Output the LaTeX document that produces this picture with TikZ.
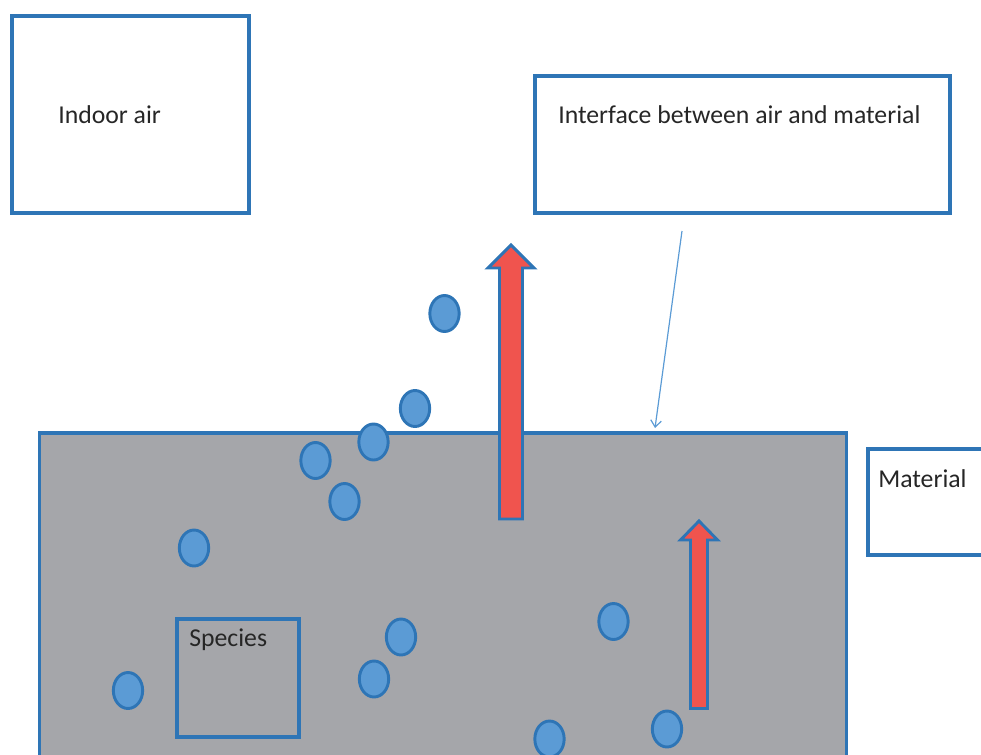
\documentclass[tikz,border=0pt]{standalone}
\usepackage{fontspec}
\setmainfont{Carlito}
\usepackage{xcolor}
\usepackage{tikz}
\usetikzlibrary{shapes.geometric,fit,arrows.meta}

\definecolor{edgeblue}{RGB}{46,117,182}
\definecolor{dotblue}{RGB}{91,155,213}
\definecolor{slabgrey}{RGB}{165,166,170}
\definecolor{fluxred}{RGB}{240,84,78}

\tikzset{
  box/.style={draw=edgeblue, line width=2.4pt, inner sep=0pt},
  caption/.style={anchor=base west, inner sep=0pt, text=black!85, font=\fontsize{19.3}{23}\selectfont},
  species dot/.style={ellipse, draw=edgeblue, fill=dotblue, line width=2.2pt, inner sep=0pt, minimum width=22pt, minimum height=27pt},
  flux/.style={draw=edgeblue, fill=fluxred, line width=2.2pt},
  pointer/.style={draw=dotblue, line width=0.9pt, -{Straight Barb[length=5pt, width=8pt]}}
}

\begin{document}
\begin{tikzpicture}[x=0.75pt, y=-0.75pt]
  \clip (0,0) rectangle (981,754);

  \node[box, fit={(12,16) (249,213)}] (indoor) {};
  \node[box, fit={(535,76) (950,213)}] (interface) {};
  \node[box, fill=slabgrey, fit={(39.5,433) (846.5,790)}] (slab) {};
  \node[box, fit={(868,449) (1000,555)}] (material) {};
  \node[box, fit={(177,619) (299,737)}] (species) {};

  \node[caption] (indoor-text) at (58,123) {Indoor air};
  \node[caption] (interface-text) at (558,123) {Interface between air and material};
  \node[caption] (material-text) at (878,487) {Material};
  \node[caption] (species-text) at (189,646) {Species};

  \foreach \cx/\tip/\base/\bot/\sw/\hw in {
      511/245/268/519/11.5/23,
      699/521/540/708.5/8.5/18.5
    } {
      \filldraw[flux] (\cx-\sw,\bot) -- (\cx-\sw,\base) -- (\cx-\hw,\base) -- (\cx,\tip)
        -- (\cx+\hw,\base) -- (\cx+\sw,\base) -- (\cx+\sw,\bot) -- cycle;
    }

  \foreach \x/\y [count=\n] in {
      444.5/313.5, 415/408.5, 373.5/442, 315.5/460.5, 344.5/501.5, 194/548,
      401/637, 374/679, 613.5/621.5, 128/690.5, 549.5/739, 667/729
    } {
      \node[species dot] (dot\n) at (\x,\y) {};
    }

  \coordinate (hint) at (682,231);
  \coordinate (hint-tip) at (655,428);
  \draw[pointer] (hint) -- (hint-tip);
\end{tikzpicture}
\end{document}
